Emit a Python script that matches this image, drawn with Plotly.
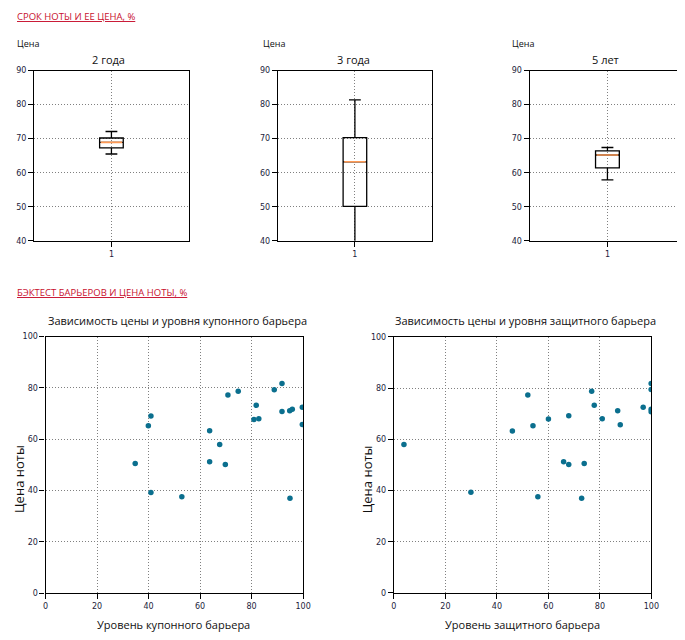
import plotly.graph_objects as go

W, H = 685, 640

# ---- data ----
box_titles = ["2 года", "3 года", "5 лет"]
box_q1 = [67.3, 50.1, 61.4]
box_median = [68.9, 63.2, 65.2]
box_q3 = [70.2, 70.3, 66.4]
box_low = [65.5, 39.0, 57.9]
box_high = [72.1, 81.4, 67.4]

coupon_x = [34.8, 39.9, 40.9, 40.9, 52.9, 63.7, 63.7, 67.6, 69.8, 70.8, 74.8,
            80.9, 81.8, 82.8, 88.8, 91.8, 91.8, 94.8, 94.9, 95.8, 99.7, 99.7]
coupon_y = [50.6, 65.3, 69.1, 39.3, 37.6, 63.3, 51.2, 58.0, 50.2, 77.2, 78.7,
            67.7, 73.2, 68.0, 79.3, 81.7, 70.8, 71.1, 37.0, 71.7, 72.5, 65.7]

protect_x = [3.9, 29.9, 46.0, 52.0, 54.0, 55.9, 60.0, 65.9, 67.9, 67.9, 72.9,
             73.9, 76.8, 77.8, 80.9, 86.9, 87.9, 96.8, 99.9, 99.9, 99.9, 99.9]
protect_y = [58.0, 39.3, 63.3, 77.3, 65.3, 37.6, 67.9, 51.2, 69.2, 50.2, 37.0,
             50.6, 78.8, 73.3, 68.0, 71.2, 65.7, 72.5, 81.8, 79.5, 71.8, 70.8]

header1 = "СРОК НОТЫ И ЕЕ ЦЕНА, %"
header2 = "БЭКТЕСТ БАРЬЕРОВ И ЦЕНА НОТЫ, %"
scatter_titles = ["Зависимость цены и уровня купонного барьера",
                  "Зависимость цены и уровня защитного барьера"]
scatter_xlabels = ["Уровень купонного барьера", "Уровень защитного барьера"]
scatter_ylabel = "Цена ноты"

# ---- style ----
FONT = "Open Sans"
TICKFONT = dict(family="DejaVu Sans", size=8, color="#1c1c3c")
RED = "#c8102e"
TEAL = "#0b6f8e"
ORANGE = "#ff9a55"


def px(x):
    return x / W


def py(y):
    return 1 - y / H


fig = go.Figure()

box_x_dom = [(31.7, 188.7), (279.3, 436.0), (535.3, 685.0)]
box_y_dom = (67.5, 240.2)
box_x_range = [[0.5, 1.5], [0.5, 1.5], [0.5, 0.5 + (685.0 - 535.3) / 158.0]]

axis_common = dict(showline=True, linecolor="black", linewidth=1.3,
                   ticks="outside", ticklen=5, tickcolor="black",
                   tickfont=TICKFONT, showgrid=True, gridcolor="#808080",
                   griddash="1px,2px", gridwidth=1, zeroline=False)

layout = {}
for i in range(3):
    n = i + 1
    xa = "x" if n == 1 else f"x{n}"
    ya = "y" if n == 1 else f"y{n}"
    fig.add_trace(go.Box(
        x=[1], q1=[box_q1[i]], median=[box_median[i]], q3=[box_q3[i]],
        lowerfence=[box_low[i]], upperfence=[box_high[i]],
        width=0.153, whiskerwidth=0.5, fillcolor="rgba(0,0,0,0)",
        line=dict(color="black", width=1.3), boxpoints=False,
        xaxis=xa, yaxis=ya, showlegend=False, hoverinfo="skip"))
    fig.add_trace(go.Box(
        x=[1], q1=[box_median[i]], median=[box_median[i]], q3=[box_median[i]],
        lowerfence=[box_median[i]], upperfence=[box_median[i]],
        width=0.153 - 0.014, whiskerwidth=0, fillcolor="rgba(0,0,0,0)",
        line=dict(color=ORANGE, width=1.6), boxpoints=False,
        xaxis=xa, yaxis=ya, showlegend=False, hoverinfo="skip"))
    layout[f"xaxis{'' if n == 1 else n}"] = dict(
        axis_common, domain=[px(box_x_dom[i][0]), px(box_x_dom[i][1])],
        range=box_x_range[i], tickvals=[1], ticktext=["1"], mirror=True,
        anchor=ya)
    layout[f"yaxis{'' if n == 1 else n}"] = dict(
        axis_common, domain=[py(box_y_dom[1]), py(box_y_dom[0])],
        range=[40, 90], tickvals=[40, 50, 60, 70, 80, 90],
        mirror=(i < 2), anchor=xa)

sc_x_dom = [(43.3, 305.0), (397.3, 659.0)]
sc_y_dom = [(337.3, 597.7), (337.7, 597.3)]
sc_data = [(coupon_x, coupon_y), (protect_x, protect_y)]
for j in range(2):
    n = j + 4
    xa, ya = f"x{n}", f"y{n}"
    fig.add_trace(go.Scatter(
        x=sc_data[j][0], y=sc_data[j][1], mode="markers",
        marker=dict(color=TEAL, size=5.5), xaxis=xa, yaxis=ya,
        showlegend=False, hoverinfo="skip"))
    layout[f"xaxis{n}"] = dict(
        axis_common, domain=[px(sc_x_dom[j][0]), px(sc_x_dom[j][1])],
        range=[0, 100], tickvals=[0, 20, 40, 60, 80, 100], mirror=True,
        anchor=ya)
    layout[f"yaxis{n}"] = dict(
        axis_common, domain=[py(sc_y_dom[j][1]), py(sc_y_dom[j][0])],
        range=[0, 100], tickvals=[0, 20, 40, 60, 80, 100], mirror=True,
        anchor=xa)

ann = []


def text(x, y, s, size, color="#111", xanchor="center", angle=0, family=FONT):
    ann.append(dict(x=px(x), y=py(y), xref="paper", yref="paper", text=s,
                    showarrow=False, xanchor=xanchor, yanchor="middle",
                    textangle=angle, font=dict(family=family, size=size,
                                               color=color)))


text(12, 13, f"<u>{header1}</u>", 9.5, RED, "left")
text(12, 293, f"<u>{header2}</u>", 9.5, RED, "left")
for i, (cx, lx) in enumerate([(107.5, 12.5), (356.7, 262.5), (612.3, 515.5)]):
    text(cx, 56.5, box_titles[i], 11)
    text(lx, 40, "Цена", 9, "#111", "left")
for j, (cx, ycx) in enumerate([(177, 16), (531, 370)]):
    text(cx, 320.7, scatter_titles[j], 11)
    text(cx - 3.5, 629.5, scatter_xlabels[j], 11)
    text(ycx, 482, scatter_ylabel, 13, angle=-90)

fig.update_layout(
    width=W, height=H, margin=dict(l=0, r=0, t=0, b=0),
    paper_bgcolor="white", plot_bgcolor="white", boxmode="overlay",
    annotations=ann, font=dict(family=FONT), **layout)

fig.write_html("out.html", config={"displayModeBar": False},
               post_script="document.body.style.margin='0';"
                           "document.body.style.overflow='hidden';")
